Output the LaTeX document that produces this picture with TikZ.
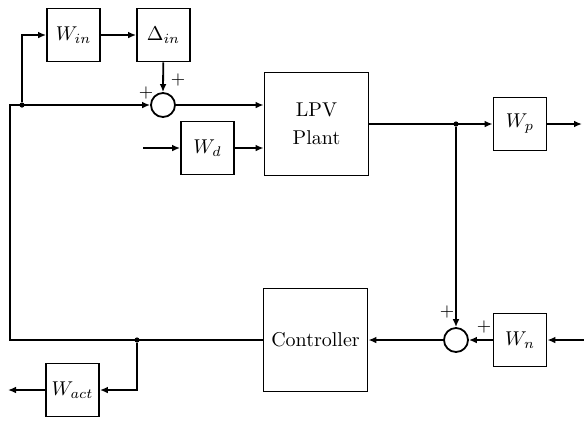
\documentclass[tikz,border=0pt]{standalone}
\usepackage{amsmath}
\usetikzlibrary{arrows.meta,positioning}
\tikzset{
  ar/.style={-{Latex[length=4pt,width=3.4pt]},line width=0.9pt},
  ln/.style={line width=0.9pt},
  blk/.style={draw,line width=0.9pt,minimum width=26.5pt,minimum height=26.5pt,inner sep=0pt},
  bigblk/.style={draw,line width=0.9pt,minimum width=52pt,minimum height=51.5pt,inner sep=0pt,align=center},
  sumc/.style={draw,circle,line width=0.9pt,minimum size=12pt,inner sep=0pt},
  jdot/.style={circle,fill,inner sep=0pt,minimum size=2.6pt},
  pl/.style={font=\small,inner sep=0pt}
}
\begin{document}
\begin{tikzpicture}[x=0.5pt,y=-0.5pt]
\useasboundingbox (0,0) rectangle (584,420);
% blocks
\node[blk] (win) at (73.5,35) {$W_{in}$};
\node[blk] (din) at (163.5,35) {$\Delta_{in}$};
\node[sumc] (s1) at (163,105) {};
\node[blk] (wd) at (207.5,148) {$W_d$};
\node[bigblk] (plant) at (316.5,124) {LPV\\[2pt]Plant};
\node[blk] (wp) at (520,124) {$W_p$};
\node[bigblk] (ctrl) at (315.5,340) {Controller};
\node[sumc] (s2) at (456,340) {};
\node[blk] (wn) at (520,340) {$W_n$};
\node[blk] (wact) at (72.5,390) {$W_{act}$};
% junctions and free ends
\node[jdot] (j1) at (22,105) {};
\node[jdot] (j2) at (plant.east -| s2) {};
\node[jdot] (j3) at (137,340) {};
\coordinate (cl) at (10,340);
\coordinate (ct) at (10,105);
\coordinate (wdin) at (143,148);
\coordinate (wpout) at (582,124);
\coordinate (wnin) at (584,340);
\coordinate (wactout) at (8,390);
% upper loop
\draw[ar] (j1) |- (win.west);
\draw[ar] (win) -- (din);
\draw[ar] (din) -- (s1.north);
\draw[ar] (s1) -- (s1 -| plant.west);
\draw[ar] (wdin) -- (wd);
\draw[ar] (wd) -- (wd -| plant.west);
\draw[ar] (plant.east) -- (wp.west);
\draw[ar] (wp) -- (wpout);
% lower loop
\draw[ar] (j2) -- (s2.north);
\draw[ar] (wnin) -- (wn);
\draw[ar] (wn) -- (s2);
\draw[ar] (s2) -- (ctrl);
\draw[ar] (ctrl.west) -- (cl) -- (ct) -- (s1.west);
\draw[ar] (j3) |- (wact.east);
\draw[ar] (wact) -- (wactout);
% signs
\node[pl] (p1) at (146,93) {$+$};
\node[pl] (p2) at (178,80) {$+$};
\node[pl] (p3) at (447,312) {$+$};
\node[pl] (p4) at (484,327) {$+$};
\end{tikzpicture}
\end{document}
